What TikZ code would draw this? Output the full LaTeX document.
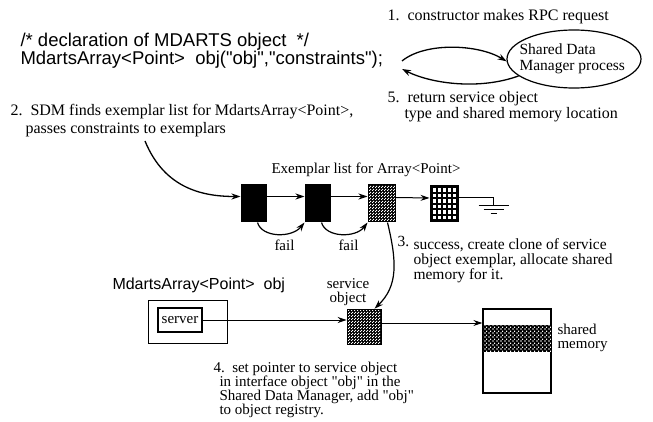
\documentclass[tikz,border=0pt]{standalone}
\usepackage{fontspec}
\setmainfont{Liberation Serif}
\newfontfamily\hdrfont{Liberation Sans}
\usetikzlibrary{arrows.meta,shapes.geometric,patterns.meta}

% fine white stipple laid over a black fill
\tikzdeclarepattern{name=stipple, type=uncolored,
  bounding box={(0pt,0pt) and (3pt,3pt)}, tile size={(3pt,3pt)},
  code={\fill (0pt,0pt) rectangle (1.3pt,1.3pt);
        \fill (1.5pt,1.5pt) rectangle (2.8pt,2.8pt);}}
% coarser dots for the shared memory segment
\tikzdeclarepattern{name=memdots, type=uncolored,
  bounding box={(0pt,0pt) and (4pt,4pt)}, tile size={(4pt,4pt)},
  code={\fill (0.5pt,0.5pt) rectangle (2pt,2pt);
        \fill (2.5pt,2.5pt) rectangle (4pt,4pt);}}

\begin{document}
\begin{tikzpicture}[x=1pt,y=-1pt,line width=1pt,
  serif/.style={font=\fontsize{15}{15}\selectfont,inner sep=0pt,anchor=base west},
  bigserif/.style={serif,font=\fontsize{16}{16}\selectfont},
  sans/.style={font=\hdrfont\fontsize{18.5}{18.5}\selectfont,inner sep=0pt,anchor=base west},
  arr/.style={-{Stealth[length=9pt,width=6pt]}},
  blk/.style={draw,fill=black,minimum width=25pt,minimum height=37pt,inner sep=0pt},
  stip/.style={draw,fill=black,inner sep=0pt,
    postaction={pattern=stipple,pattern color=white},postaction={draw}},
]
\useasboundingbox (0,0) rectangle (653,422);

% declaration in the client program
\node[sans] (h1) at (20,47) {/* declaration of MDARTS object\ \ */};
\node[sans] (h2) at (20,65) {MdartsArray<Point>\ \ obj(\textquotedbl obj\textquotedbl,\textquotedbl constraints\textquotedbl);};

% RPC exchange with the Shared Data Manager
\node[bigserif] (s1) at (387,21) {1.\ \ constructor makes RPC request};
\node[draw,ellipse,line width=1.2pt,minimum width=134pt,minimum height=58pt,inner sep=0pt] (sdm) at (574,59) {};
\node[serif,font=\fontsize{15.5}{15.5}\selectfont] (sdm1) at (519,55) {Shared Data};
\node[serif,font=\fontsize{15.5}{15.5}\selectfont] (sdm2) at (519,71) {Manager process};
\coordinate (rpcout) at (402,61);
\coordinate (retin) at (402,69);
\draw[arr,line width=1.3pt] (rpcout) .. controls (425,42) and (478,44) .. (sdm.182);
\draw[arr,line width=1.3pt] (sdm.197) .. controls (480,90) and (432,84) .. (retin);
\node[bigserif] (s5a) at (387,103) {5.\ \ return service object};
\node[bigserif] (s5b) at (404,119) {type and shared memory location};

% exemplar search
\node[bigserif] (s2a) at (10,116) {2.\ \ SDM finds exemplar list for MdartsArray<Point>,};
\node[bigserif] (s2b) at (25,134) {passes constraints to exemplars};
\node[serif] (exl) at (271,174) {Exemplar list for Array<Point>};

\node[blk] (b1) at (253.5,203.5) {};
\node[blk] (b2) at (317.5,203.5) {};
\node[stip,minimum width=27pt,minimum height=37pt] (b3) at (381.5,203.5) {};
\node[draw,fill=black,minimum width=28pt,minimum height=36pt,inner sep=0pt] (b4) at (444,204) {};
\foreach \i in {0,...,4}
  \foreach \j in {0,...,5}
    \fill[white] (432.5+5*\i,188.5+5.5*\j) rectangle ++(3,3.2);

\coordinate (s2tail) at (145,141);
\draw[arr,line width=1.3pt] (s2tail) .. controls (165,190) and (205,196.5) .. ([yshift=7pt]b1.west);
\draw[arr] ([yshift=7pt]b1.east) -- ([yshift=7pt]b2.west);
\draw[arr] ([yshift=7pt]b2.east) -- ([yshift=7pt]b3.west);
\draw[arr] ([yshift=6pt]b3.east) -- ([yshift=6pt]b4.west);

% end of list: ground
\draw ([yshift=6pt]b4.east) -- ++(35,0) -- ++(0,8) coordinate (gnd);
\draw (gnd) ++(-15,0) -- ++(30,0);
\draw (gnd) ++(-10,4) -- ++(20,0);
\draw (gnd) ++(-3,8) -- ++(6,0);

% failed exemplars
\draw[arr,line width=1.2pt] ([xshift=4pt]b1.south) .. controls (262,238) and (292,238) .. (b2.south west);
\draw[arr,line width=1.2pt] ([xshift=4pt]b2.south) .. controls (326,238) and (356,238) .. (b3.south west);
\node[serif] (f1) at (274,251) {fail};
\node[serif] (f2) at (338,251) {fail};

% cloned service object
\node[stip,line width=1.6pt,minimum width=34pt,minimum height=35pt] (svc) at (364.5,327) {};
\draw[arr,line width=1.2pt] ([xshift=6pt]b3.south) .. controls (397,262) and (398,286) .. ([xshift=10pt]svc.north);
\node[serif,font=\fontsize{15.5}{15.5}\selectfont] (s3n) at (397,247) {3.};
\node[serif,font=\fontsize{15.5}{15.5}\selectfont] (s3a) at (413,249) {success, create clone of service};
\node[serif,font=\fontsize{15.5}{15.5}\selectfont] (s3b) at (413,264) {object exemplar, allocate shared};
\node[serif,font=\fontsize{15.5}{15.5}\selectfont] (s3c) at (413,279) {memory for it.};

\node[serif,anchor=base] (svl1) at (348,288) {service};
\node[serif,anchor=base] (svl2) at (348,302) {object};

% interface object
\node[font=\hdrfont\fontsize{16}{16}\selectfont,anchor=base west,inner sep=0pt] (objl)
  at (112,289) {MdartsArray<Point>\ \ obj};
\node[draw,minimum width=79pt,minimum height=43pt,inner sep=0pt] (objbox) at (187.5,321.5) {};
\node[draw,line width=2pt,minimum width=44pt,minimum height=24pt,inner sep=0pt,
      font=\fontsize{15}{15}\selectfont] (srv) at (180,320) {server};
\draw[arr] (srv.east) -- (srv.east -| svc.west);

% shared memory
\node[draw,line width=1.3pt,minimum width=68pt,minimum height=84pt,inner sep=0pt] (mem) at (517,351) {};
\node[fill=black,postaction={pattern=memdots,pattern color=white},
      minimum width=68pt,minimum height=27pt,inner sep=0pt] (band) at (517,338) {};
\draw[line width=1.3pt] (mem.north west) rectangle (mem.south east);
\draw[arr] ([xshift=-2pt,yshift=4pt]svc.center) -- ([yshift=4pt]svc.center -| mem.west);
\node[serif] (ml1) at (557,334) {shared};
\node[serif] (ml2) at (557,348) {memory};

\node[serif] (s4a) at (213,372) {4.\ \ set pointer to service object};
\node[serif] (s4b) at (219,386) {in interface object \textquotedbl obj\textquotedbl\ in the};
\node[serif] (s4c) at (219,400) {Shared Data Manager, add \textquotedbl obj\textquotedbl};
\node[serif] (s4d) at (219,414) {to object registry.};
\end{tikzpicture}
\end{document}
